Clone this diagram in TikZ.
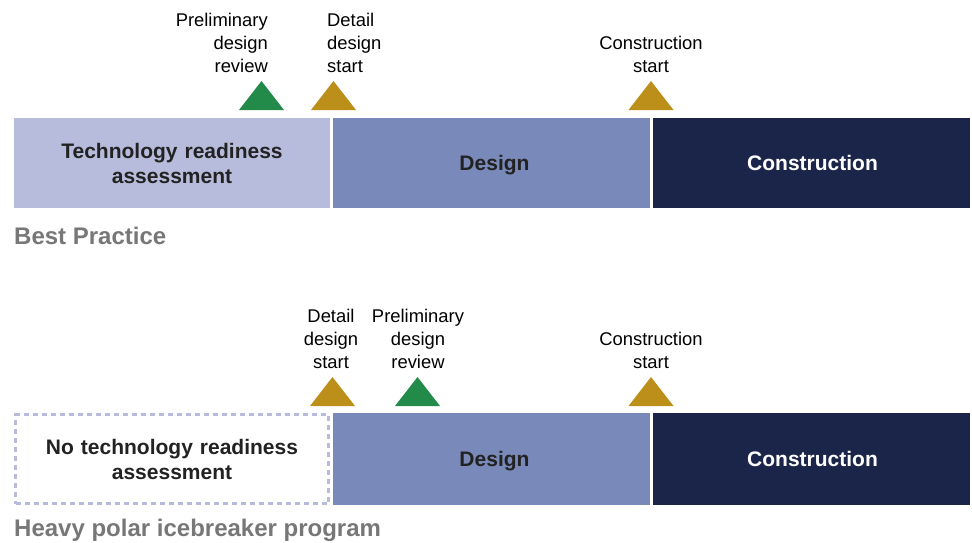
\documentclass[tikz,border=0pt]{standalone}
\usepackage{fontspec}
\setmainfont{Liberation Sans}
\definecolor{lav}{HTML}{B8BCDC}
\definecolor{midblue}{HTML}{7889BA}
\definecolor{navy}{HTML}{1B2549}
\definecolor{mgreen}{HTML}{228B4A}
\definecolor{mgold}{HTML}{BC8F1A}
\definecolor{labgray}{HTML}{777777}
\definecolor{boxtext}{HTML}{222222}
\tikzset{
  phase/.style={inner sep=0pt, minimum width=317pt, text width=300pt, align=center,
    font=\fontsize{21}{25}\selectfont\bfseries},
  oneline/.style={text depth=0pt},
  mile/.style={inner sep=0pt, font=\fontsize{18.4}{23}\selectfont},
  rowlabel/.style={inner sep=0pt, anchor=west, text=labgray, font=\fontsize{24}{28}\selectfont\bfseries},
}
\newcommand{\mtri}[3]{\fill[#1] (#2-22.5,#3) -- (#2+22.5,#3) -- (#2,#3-29) -- cycle;}
\begin{document}
\begin{tikzpicture}[x=1pt,y=-1pt]
\useasboundingbox (0,0) rectangle (972,543);
% top row
\node[phase, fill=lav, text=boxtext, minimum width=316pt, minimum height=90pt] (tra) at (172,163) {Technology readiness\\assessment};
\node[phase, oneline, fill=midblue, text=boxtext, minimum height=90pt] (des1) at (491.5,163) {\hspace*{6pt}Design};
\node[phase, oneline, fill=navy, text=white, minimum height=90pt] (con1) at (811.5,163) {\hspace*{2pt}Construction};
\node[rowlabel] (bp) at (14,236) {Best Practice};
\mtri{mgreen}{261.5}{110}
\mtri{mgold}{333.5}{110}
\mtri{mgold}{651}{110}
\node[mile, anchor=east, align=right] (pdr1) at (268,43) {Preliminary\\design\\review};
\node[mile, anchor=west, align=left] (dds1) at (327,43) {Detail\\design\\start};
\node[mile, align=center] (cs1) at (651,54.5) {Construction\\start};
% bottom row
\node[phase, draw=lav, line width=2.5pt, dash pattern=on 5pt off 4pt, text=boxtext,
  minimum width=313pt, minimum height=89pt] (ntra) at (172,459) {No technology readiness\\assessment};
\node[phase, oneline, fill=midblue, text=boxtext, minimum height=92pt] (des2) at (491.5,459) {\hspace*{6pt}Design};
\node[phase, oneline, fill=navy, text=white, minimum height=92pt] (con2) at (811.5,459) {\hspace*{2pt}Construction};
\node[rowlabel] (hp) at (14,530) {Heavy polar icebreaker program};
\mtri{mgold}{332.5}{406}
\mtri{mgreen}{417.5}{406}
\mtri{mgold}{651}{406}
\node[mile, align=center] (dds2) at (331,339) {Detail\\design\\start};
\node[mile, align=center] (pdr2) at (418,339) {Preliminary\\design\\review};
\node[mile, align=center] (cs2) at (651,350.5) {Construction\\start};
\end{tikzpicture}
\end{document}
